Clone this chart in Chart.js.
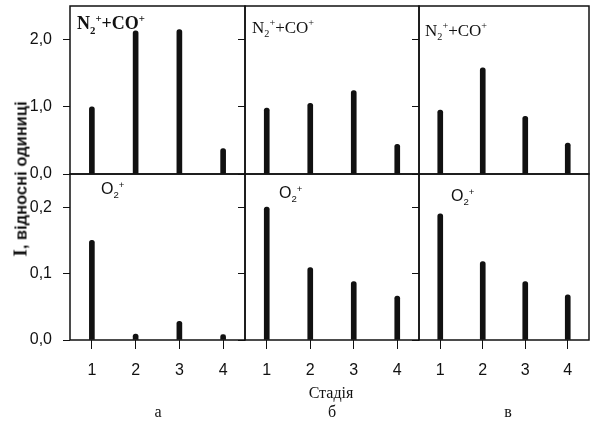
<!DOCTYPE html>
<html>
<head>
<meta charset="utf-8">
<script src="https://cdn.jsdelivr.net/npm/chart.js@4"></script>
<style>
  body { margin: 0; background: #fff; }
  #wrap { position: relative; width: 590px; height: 424px; overflow: hidden; }
  #wrap canvas { position: absolute; left: 0; top: 0; }
  .lbl { position: absolute; color: #111; white-space: nowrap; line-height: 1; }
  .serif { font-family: "Liberation Serif", "Times New Roman", serif; }
  .sans { font-family: "Liberation Sans", Arial, sans-serif; }
  .lbl sub, .lbl sup { font-size: 60%; line-height: 0; }
</style>
</head>
<body>
<div id="wrap">
  <canvas id="a1" width="590" height="424"></canvas>
  <canvas id="b1" width="590" height="424"></canvas>
  <canvas id="c1" width="590" height="424"></canvas>
  <canvas id="a2" width="590" height="424"></canvas>
  <canvas id="b2" width="590" height="424"></canvas>
  <canvas id="c2" width="590" height="424"></canvas>

  <div class="lbl serif" style="left:77px;top:14px;font-size:18px;font-weight:bold;">N<sub>2</sub><sup>+</sup>+CO<sup>+</sup></div>
  <div class="lbl serif" style="left:252px;top:19px;font-size:17px;">N<sub>2</sub><sup>+</sup>+CO<sup>+</sup></div>
  <div class="lbl serif" style="left:425px;top:22px;font-size:17px;">N<sub>2</sub><sup>+</sup>+CO<sup>+</sup></div>

  <div class="lbl sans" style="left:101px;top:181px;font-size:16px;">O<sub>2</sub><sup>+</sup></div>
  <div class="lbl sans" style="left:279px;top:185px;font-size:16px;">O<sub>2</sub><sup>+</sup></div>
  <div class="lbl sans" style="left:451px;top:188px;font-size:16px;">O<sub>2</sub><sup>+</sup></div>

  <div class="lbl sans" style="left:20px;top:179px;font-size:16.5px;font-weight:bold;transform:translate(-50%,-50%) rotate(-90deg);"><span class="serif" style="font-size:19px;">I</span>, відносні одиниці</div>

  <div class="lbl serif" style="left:331px;top:393px;font-size:16px;transform:translate(-50%,-50%);">Стадія</div>
  <div class="lbl serif" style="left:158px;top:412px;font-size:16px;transform:translate(-50%,-50%);">а</div>
  <div class="lbl serif" style="left:332px;top:412px;font-size:16px;transform:translate(-50%,-50%);">б</div>
  <div class="lbl serif" style="left:508px;top:412px;font-size:16px;transform:translate(-50%,-50%);">в</div>
</div>

<script>
// stages on the x axis
const stages = ['1', '2', '3', '4'];

// N2+ + CO+ (top row), panels а, б, в
const topA = [1.0, 2.13, 2.15, 0.38];
const topB = [0.98, 1.05, 1.24, 0.44];
const topC = [0.95, 1.58, 0.86, 0.46];

// O2+ (bottom row), panels а, б, в
const botA = [0.15, 0.009, 0.028, 0.008];
const botB = [0.20, 0.109, 0.088, 0.066];
const botC = [0.19, 0.118, 0.088, 0.068];

// y ticks
const topTicks = [0, 1, 2];
const botTicks = [0, 0.1, 0.2];

const W = 590, H = 424;
const cols = [[70, 245], [245, 419], [419, 589]];
const rows = [[6, 174], [174, 340]];

const framePlugin = {
  id: 'frame',
  afterDraw(chart) {
    const a = chart.chartArea, ctx = chart.ctx;
    ctx.save();
    ctx.strokeStyle = '#111';
    ctx.lineWidth = 1.5;
    ctx.strokeRect(a.left, a.top, a.right - a.left, a.bottom - a.top);
    ctx.restore();
  }
};

function fmt(v) {
  return v.toFixed(1).replace('.', ',');
}

function panel(id, data, col, row, yMax, yTicks) {
  const [L, R] = cols[col];
  const [T, B] = rows[row];
  const showY = col === 0;
  const showX = row === 1;
  const yw = showY ? 70 : 7;
  const xh = showX ? 44 : 0;

  new Chart(document.getElementById(id), {
    type: 'bar',
    data: {
      labels: stages,
      datasets: [{
        data: data,
        backgroundColor: '#111',
        barThickness: 5,
        borderRadius: { topLeft: 2.5, topRight: 2.5 },
        borderSkipped: 'start'
      }]
    },
    options: {
      responsive: false,
      animation: false,
      devicePixelRatio: 1,
      layout: {
        autoPadding: false,
        padding: { left: L - yw, right: W - R, top: T, bottom: H - B - xh }
      },
      plugins: { legend: { display: false }, tooltip: { enabled: false } },
      scales: {
        x: {
          display: showX,
          offset: true,
          grid: { offset: false, drawOnChartArea: false, drawTicks: true, tickLength: 9, color: '#111', lineWidth: 1 },
          border: { display: false },
          ticks: { color: '#111', padding: 12, font: { family: 'Liberation Sans', size: 16 } },
          afterFit: s => { s.height = xh; s.paddingLeft = 0; s.paddingRight = 0; }
        },
        y: {
          min: 0,
          max: yMax,
          afterBuildTicks: s => { s.ticks = yTicks.map(v => ({ value: v })); },
          grid: { drawOnChartArea: false, drawTicks: true, tickLength: 7, color: '#111', lineWidth: 1 },
          border: { display: false },
          ticks: {
            display: showY,
            color: '#111',
            padding: 11,
            font: { family: 'Liberation Sans', size: 16 },
            callback: v => fmt(v)
          },
          afterFit: s => { s.width = yw; s.paddingTop = 0; s.paddingBottom = 0; }
        }
      }
    },
    plugins: [framePlugin]
  });
}

panel('a1', topA, 0, 0, 2.5, topTicks);
panel('b1', topB, 1, 0, 2.5, topTicks);
panel('c1', topC, 2, 0, 2.5, topTicks);
panel('a2', botA, 0, 1, 0.25, botTicks);
panel('b2', botB, 1, 1, 0.25, botTicks);
panel('c2', botC, 2, 1, 0.25, botTicks);
</script>
</body>
</html>
